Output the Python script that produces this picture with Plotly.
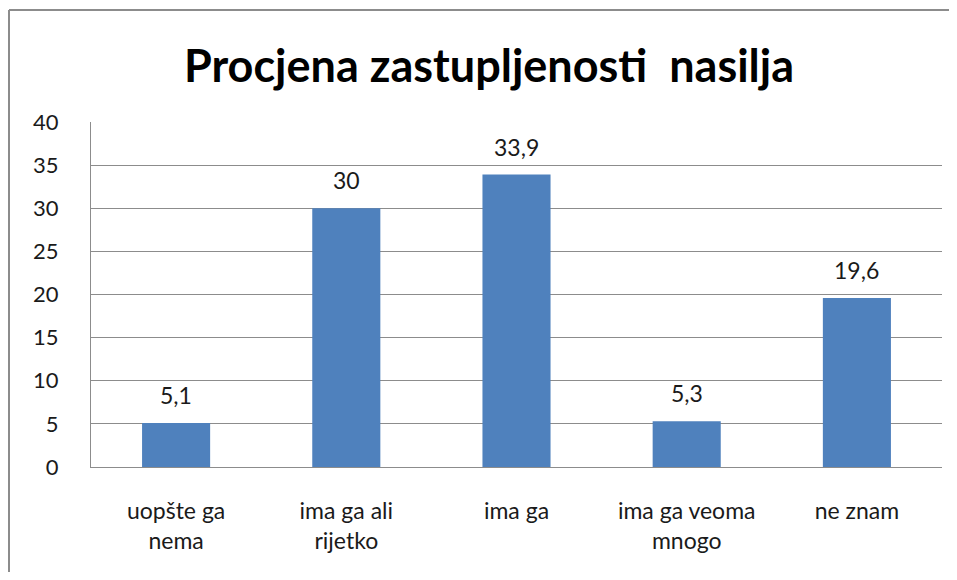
import plotly.graph_objects as go

categories = ["uopšte ga<br>nema", "ima ga ali<br>rijetko", "ima ga", "ima ga veoma<br>mnogo", "ne znam"]
values = [5.1, 30, 33.9, 5.3, 19.6]
value_labels = ["5,1", "30", "33,9", "5,3", "19,6"]
title_text = "Procjena zastupljenosti  nasilja"

# page body has an 8px margin; figure is sized to fit inside the window
OFF = 8
W, H = 957 - 2 * OFF, 580 - 2 * OFF
L, R, T, B = 91 - OFF, 15 - OFF, 122 - OFF, 113 - OFF
pw, ph = W - L - R, H - T - B

def px_x(p):
    return (p - OFF - L) / pw

def px_y(p):
    return (H - B - (p - OFF)) / ph

fig = go.Figure(go.Bar(
    x=categories, y=values,
    marker=dict(color="#4F81BD", line=dict(width=0)),
))

for c, v, t in zip(categories, values, value_labels):
    fig.add_annotation(x=c, y=v, text=t, showarrow=False, yshift=28,
                       yanchor="middle", xanchor="center",
                       font=dict(size=23, family="Lato", color="#1a1a1a"))

fig.update_layout(
    width=W, height=H,
    margin=dict(l=L, r=R, t=T, b=B),
    paper_bgcolor="white", plot_bgcolor="white",
    bargap=0.6,
    showlegend=False,
    font=dict(family="Lato", size=22, color="#1a1a1a"),
    title=dict(text="<b>" + title_text + "</b>", x=px_x(489), xref="paper", xanchor="center",
               y=1 - (66 - OFF) / H, yanchor="middle", yref="container",
               font=dict(size=45, family="Lato", color="black")),
    xaxis=dict(showgrid=False, showline=True, linecolor="#8c8c8c", linewidth=1,
               ticks="", tickfont=dict(size=23), ticklabelstandoff=23),
    yaxis=dict(range=[0, 40], dtick=5, showgrid=True, gridcolor="#8c8c8c", gridwidth=1,
               showline=True, linecolor="#8c8c8c", linewidth=1, ticks="",
               tickfont=dict(size=22), ticklabelstandoff=27, zeroline=False),
    shapes=[
        dict(type="line", xref="paper", yref="paper", x0=px_x(9), x1=px_x(W + OFF),
             y0=px_y(10), y1=px_y(10), line=dict(color="#8c8c8c", width=2)),
        dict(type="line", xref="paper", yref="paper", x0=px_x(9), x1=px_x(9),
             y0=px_y(10), y1=px_y(H + OFF), line=dict(color="#8c8c8c", width=2)),
    ],
)

fig.write_html("out.html", config={"displayModeBar": False})
